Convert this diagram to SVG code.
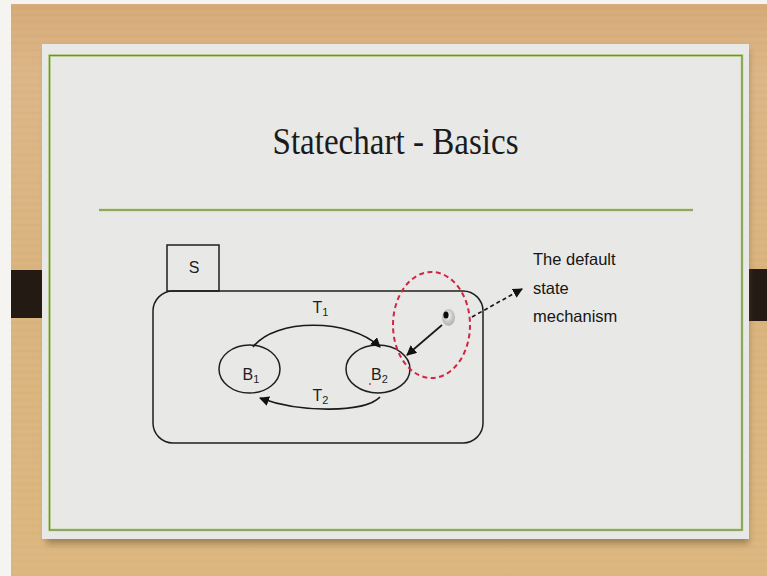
<svg xmlns="http://www.w3.org/2000/svg" width="767" height="576" viewBox="0 0 767 576">
  <defs>
    <linearGradient id="wood" x1="0" y1="0" x2="0" y2="1">
      <stop offset="0" stop-color="#d6aa78"/>
      <stop offset="0.12" stop-color="#dcb688"/>
      <stop offset="0.5" stop-color="#dab47e"/>
      <stop offset="1" stop-color="#dcb780"/>
    </linearGradient>
    <pattern id="grain" width="767" height="7" patternUnits="userSpaceOnUse">
      <rect x="0" y="0" width="767" height="2" fill="#b98a55" opacity="0.05"/>
      <rect x="0" y="4" width="767" height="1" fill="#f0d2a4" opacity="0.06"/>
    </pattern>
    <radialGradient id="halo" cx="0.45" cy="0.4" r="0.6">
      <stop offset="0" stop-color="#ffffff"/>
      <stop offset="0.6" stop-color="#c8c8c8"/>
      <stop offset="1" stop-color="#9a9a9a" stop-opacity="0.6"/>
    </radialGradient>
    <filter id="soft" x="-5%" y="-5%" width="110%" height="115%">
      <feGaussianBlur stdDeviation="3"/>
    </filter>
    <marker id="head" viewBox="0 0 10 10" refX="9" refY="5" markerWidth="10" markerHeight="10" markerUnits="userSpaceOnUse" orient="auto">
      <path d="M0,0 L10,5 L0,10 z" fill="#111"/>
    </marker>
    <style>
      .edge { fill: none; stroke: #1a1a1a; stroke-width: 1.7; }
      .shape { fill: none; stroke: #1e1e1e; stroke-width: 1.5; }
      .lbl { font-family: "Liberation Sans", "DejaVu Sans", sans-serif; font-size: 16px; fill: #1e1e1e; }
      .sub { font-size: 11px; }
      .note { font-family: "Liberation Sans", "DejaVu Sans", sans-serif; font-size: 16.5px; fill: #151515; }
    </style>
  </defs>

  <!-- page background: white margin and wooden desk -->
  <rect x="0" y="0" width="767" height="576" fill="#f6f4f0"/>
  <rect x="11" y="4" width="756" height="572" fill="url(#wood)"/>
  <rect x="11" y="4" width="756" height="572" fill="url(#grain)"/>

  <!-- side tabs -->
  <rect x="11" y="270" width="46" height="48" fill="#241a14"/>
  <rect x="732" y="269" width="35" height="52" fill="#241a14"/>

  <!-- slide card with soft shadow -->
  <rect x="46" y="50" width="703" height="494" fill="#6b5330" opacity="0.5" filter="url(#soft)"/>
  <rect x="42" y="44" width="707" height="495" fill="#e8e8e7"/>
  <rect x="49.5" y="55.5" width="692.5" height="474.5" fill="none" stroke="#c9dba0" stroke-width="3"/>
  <rect x="49.5" y="55.5" width="692.5" height="474.5" fill="none" stroke="#6f8c45" stroke-width="1.3"/>

  <!-- title and rule -->
  <text x="272.5" y="154" font-family="'Liberation Serif', 'DejaVu Serif', serif" font-size="38" fill="#1b1b1b" textLength="246" lengthAdjust="spacingAndGlyphs">Statechart - Basics</text>
  <line x1="99" y1="210" x2="693" y2="210" stroke="#c9dba0" stroke-width="3"/>
  <line x1="99" y1="210" x2="693" y2="210" stroke="#7d9650" stroke-width="1.3"/>

  <!-- superstate S -->
  <g id="S">
    <rect x="153" y="291" width="330" height="152" rx="20" ry="20" class="shape" fill="#ebebea"/>
    <rect x="167" y="245" width="52" height="46" class="shape" fill="#ebebea"/>
    <text x="194" y="273" class="lbl" text-anchor="middle">S</text>
  </g>

  <!-- state B1 -->
  <g id="B1">
    <ellipse cx="249.5" cy="369" rx="30.5" ry="24" class="shape"/>
    <text x="242.5" y="380" class="lbl">B<tspan class="sub" dy="3">1</tspan></text>
  </g>

  <!-- state B2 -->
  <g id="B2">
    <ellipse cx="378" cy="369" rx="32" ry="24" class="shape"/>
    <text x="371" y="380" class="lbl">B<tspan class="sub" dy="3">2</tspan></text>
    <circle cx="370" cy="384" r="0.9" fill="#d0263f"/>
  </g>

  <!-- default entry point -->
  <g id="default">
    <ellipse cx="448.5" cy="317.5" rx="6.5" ry="8.5" fill="url(#halo)"/>
    <ellipse cx="446" cy="315" rx="2.6" ry="3.6" fill="#0a0a0a"/>
  </g>

  <!-- highlight around the default mechanism -->
  <g id="highlight">
    <ellipse cx="431.5" cy="325" rx="38.5" ry="53" fill="none" stroke="#d0263f" stroke-width="2" stroke-dasharray="5 3.5"/>
  </g>

  <!-- annotation -->
  <g id="note">
    <text x="533" y="265" class="note">The default</text>
    <text x="533" y="294" class="note">state</text>
    <text x="533" y="322" class="note">mechanism</text>
  </g>

  <!-- transitions -->
  <g id="connectors">
    <path d="M253,347 C275,318 350,318 380,347" class="edge" marker-end="url(#head)"/>
    <text x="312.5" y="313" class="lbl" font-size="15">T<tspan class="sub" dy="3">1</tspan></text>
    <path d="M380,397 C365,413 300,413 260,398" class="edge" marker-end="url(#head)"/>
    <text x="312.5" y="401" class="lbl" font-size="15">T<tspan class="sub" dy="3">2</tspan></text>
    <path d="M442,325 L407,355" class="edge" marker-end="url(#head)"/>
    <path d="M472,317 L522,289" class="edge" stroke-dasharray="4 3" marker-end="url(#head)"/>
  </g>
</svg>
